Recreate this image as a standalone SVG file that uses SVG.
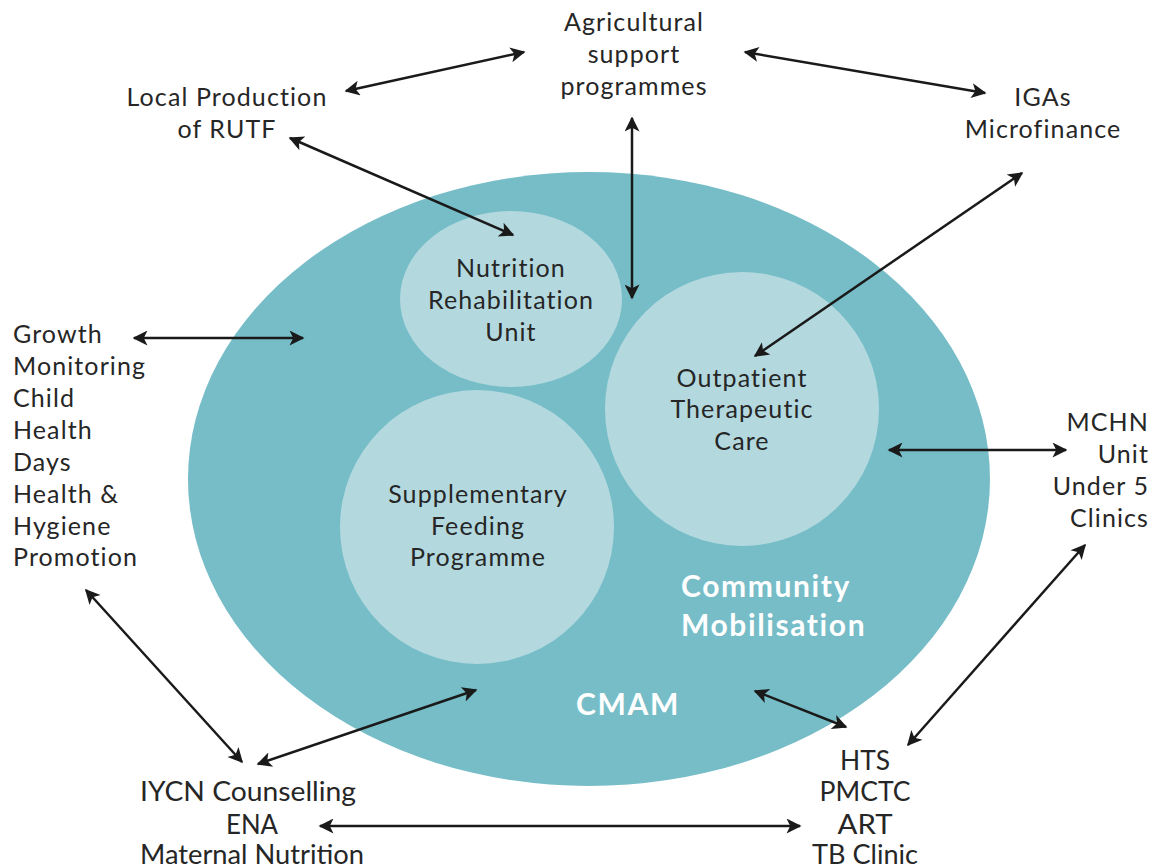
<svg xmlns="http://www.w3.org/2000/svg" width="1153" height="868" viewBox="0 0 1153 868">
<defs>
<style>
.t{font-family:Lato,"Open Sans","Liberation Sans",sans-serif;font-size:25px;fill:#262626;letter-spacing:1.1px}
.b{font-family:Lato,"Open Sans","Liberation Sans",sans-serif;font-size:26px;fill:#262626}
.c{text-anchor:middle}
.r{text-anchor:end}
.w{font-family:Lato,"Open Sans","Liberation Sans",sans-serif;font-size:30px;font-weight:bold;fill:#ffffff;letter-spacing:1.6px}
.ln{stroke:#1a1a1a;stroke-width:2.5;fill:none;marker-start:url(#ah);marker-end:url(#ah)}
</style>
<marker id="ah" viewBox="0 0 10 10" refX="9" refY="5" markerWidth="7" markerHeight="6" orient="auto-start-reverse" markerUnits="strokeWidth">
<path d="M0,0 L10,5 L0,10 L2.5,5 z" fill="#1a1a1a"/>
</marker>
</defs>
<rect width="1153" height="868" fill="#ffffff"/>
<g id="cmam">
<ellipse cx="589" cy="479" rx="401" ry="307" fill="#76BDC8"/>
<text class="w c" x="628" y="715">CMAM</text>
</g>
<g id="community">
<text class="w" x="681" y="597">Community</text>
<text class="w" x="681" y="636">Mobilisation</text>
</g>
<g id="nru">
<ellipse cx="511" cy="299" rx="111" ry="88" fill="#B3D9DF"/>
<text class="t c" x="511" y="277">Nutrition</text>
<text class="t c" x="511" y="309">Rehabilitation</text>
<text class="t c" x="511" y="341">Unit</text>
</g>
<g id="otc">
<circle cx="742" cy="409" r="137" fill="#B3D9DF"/>
<text class="t c" x="742" y="387">Outpatient</text>
<text class="t c" x="742" y="418">Therapeutic</text>
<text class="t c" x="742" y="450">Care</text>
</g>
<g id="sfp">
<circle cx="477" cy="527" r="137" fill="#B3D9DF"/>
<text class="t c" x="478" y="503">Supplementary</text>
<text class="t c" x="478" y="535">Feeding</text>
<text class="t c" x="478" y="566">Programme</text>
</g>
<g id="agri">
<text class="t c" x="634" y="31">Agricultural</text>
<text class="t c" x="634" y="63">support</text>
<text class="t c" x="634" y="95">programmes</text>
</g>
<g id="rutf">
<text class="t c" x="227" y="106">Local Production</text>
<text class="t c" x="227" y="138">of RUTF</text>
</g>
<g id="iga">
<text class="t c" x="1043" y="106">IGAs</text>
<text class="t c" x="1043" y="138">Microfinance</text>
</g>
<g id="growth">
<text class="t" x="13" y="343">Growth</text>
<text class="t" x="13" y="375">Monitoring</text>
<text class="t" x="13" y="407">Child</text>
<text class="t" x="13" y="439">Health</text>
<text class="t" x="13" y="471">Days</text>
<text class="t" x="13" y="503">Health &amp;</text>
<text class="t" x="13" y="535">Hygiene</text>
<text class="t" x="13" y="566">Promotion</text>
</g>
<g id="mchn">
<text class="t r" x="1149" y="431">MCHN</text>
<text class="t r" x="1149" y="463">Unit</text>
<text class="t r" x="1149" y="495">Under 5</text>
<text class="t r" x="1149" y="527">Clinics</text>
</g>
<g id="iycn">
<text class="b c" x="248" y="801" textLength="216" lengthAdjust="spacingAndGlyphs">IYCN Counselling</text>
<text class="b c" x="252" y="834" textLength="52" lengthAdjust="spacingAndGlyphs">ENA</text>
<text class="b c" x="252" y="864" textLength="224" lengthAdjust="spacingAndGlyphs">Maternal Nutrition</text>
</g>
<g id="hts">
<text class="b c" x="865" y="770" textLength="50" lengthAdjust="spacingAndGlyphs">HTS</text>
<text class="b c" x="865" y="801" textLength="91" lengthAdjust="spacingAndGlyphs">PMCTC</text>
<text class="b c" x="865" y="834" textLength="55" lengthAdjust="spacingAndGlyphs">ART</text>
<text class="b c" x="865" y="864" textLength="106" lengthAdjust="spacingAndGlyphs">TB Clinic</text>
</g>
<g id="connectors">
<line class="ln" x1="346" y1="91" x2="524" y2="52"/>
<line class="ln" x1="745" y1="52" x2="985" y2="93"/>
<line class="ln" x1="290" y1="138" x2="513" y2="235"/>
<line class="ln" x1="632" y1="118" x2="632" y2="298"/>
<line class="ln" x1="1022" y1="173" x2="755" y2="356"/>
<line class="ln" x1="134" y1="338" x2="303" y2="338"/>
<line class="ln" x1="889" y1="450" x2="1066" y2="450"/>
<line class="ln" x1="1085" y1="545" x2="908" y2="745"/>
<line class="ln" x1="755" y1="691" x2="846" y2="727"/>
<line class="ln" x1="86" y1="590" x2="242" y2="762"/>
<line class="ln" x1="258" y1="764" x2="476" y2="690"/>
<line class="ln" x1="320" y1="826" x2="800" y2="826"/>
</g>
</svg>
